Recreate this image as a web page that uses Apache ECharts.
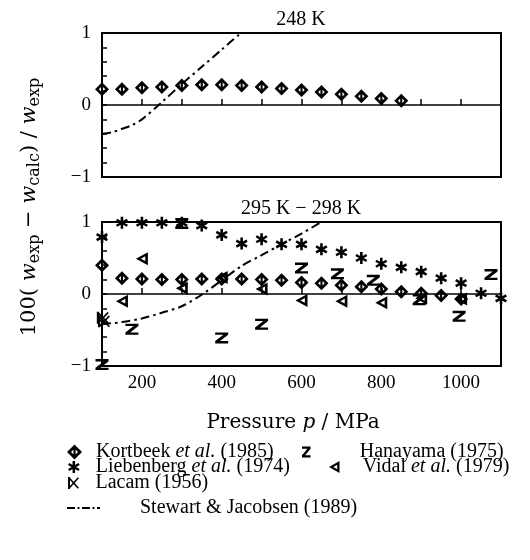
<!DOCTYPE html>
<html>
<head>
<meta charset="utf-8">
<script src="https://cdn.jsdelivr.net/npm/echarts@6/dist/echarts.min.js"></script>
<style>
html,body{margin:0;padding:0;background:#fff;}
#chart{width:530px;height:560px;}
</style>
</head>
<body>
<div id="chart"></div>
<script>
// ---------- data ----------
const xTicks = [200, 400, 600, 800, 1000];
const yTickLabels = ['−1', '0', '1'];

// 248 K panel
const p248 = [100,150,200,250,300,350,400,450,500,550,600,650,700,750,800,850];
const kortbeek248 = [0.22,0.22,0.24,0.25,0.27,0.28,0.28,0.27,0.25,0.23,0.21,0.18,0.15,0.12,0.09,0.06];
const pStewart248 = [100,125,150,175,200,250,300,350,400,450];
const stewart248 = [-0.40,-0.38,-0.33,-0.28,-0.20,0.04,0.29,0.53,0.77,1.01];

// 295 K - 298 K panel
const p298 = [100,150,200,250,300,350,400,450,500,550,600,650,700,750,800,850,900,950,1000];
const kortbeek298 = [0.40,0.22,0.21,0.20,0.20,0.21,0.21,0.21,0.20,0.19,0.16,0.15,0.12,0.10,0.07,0.03,0.01,-0.02,-0.07];
const pLiebenberg = [100,150,200,250,300,350,400,450,500,550,600,650,700,750,800,850,900,950,1000,1050,1100];
const liebenberg = [0.79,0.99,0.99,0.99,0.99,0.95,0.82,0.70,0.76,0.69,0.69,0.62,0.58,0.50,0.42,0.37,0.31,0.22,0.15,0.01,-0.06];
const pHanayama = [100,175,300,400,500,600,690,780,895,995,1075];
const hanayama = [-0.98,-0.49,0.98,-0.61,-0.42,0.36,0.28,0.19,-0.08,-0.31,0.27];
const pVidal = [150,200,300,400,500,600,700,800,900,1000];
const vidal = [-0.10,0.49,0.08,0.23,0.07,-0.09,-0.10,-0.12,-0.06,-0.07];
const pLacam = [102,105];
const lacam = [-0.33,-0.38];
const pStewart298 = [100,150,200,250,300,350,400,450,500,550,600,650];
const stewart298 = [-0.42,-0.39,-0.34,-0.26,-0.17,-0.01,0.19,0.39,0.54,0.69,0.84,1.0];

const names = {
  kortbeek: 'Kortbeek et al. (1985)',
  liebenberg: 'Liebenberg et al. (1974)',
  lacam: 'Lacam (1956)',
  hanayama: 'Hanayama (1975)',
  vidal: 'Vidal et al. (1979)',
  stewart: 'Stewart & Jacobsen (1989)'
};

// ---------- styles ----------
const FONT = '"Liberation Serif", "Times New Roman", serif';
const FONT2 = '"DejaVu Serif", serif';
const symDiamond = 'path://M0,-10L10,0L0,10L-10,0Z M0,-4.6L-4.6,0L0,4.6L4.6,0Z M-1.5,-5L1.5,-5L1.5,5L-1.5,5Z';
const symStar = 'path://M-2.1,-10L2.1,-10L2.1,10L-2.1,10Z M7.61,-6.82L9.71,-3.18L-7.61,6.82L-9.71,3.18Z M9.71,3.18L7.61,6.82L-9.71,-3.18L-7.61,-6.82Z';
const symZ = 'path://M-7,-9L7,-9L7,-5.2L-1.8,5.2L7,5.2L7,9L-7,9L-7,5.2L1.8,-5.2L-7,-5.2Z';
const symTri = 'path://M-8,0L6,-8L6,8Z M-2.2,0L2.9,2.9L2.9,-2.9Z';
const symLacam = 'path://M-6.1,-8.79L7.9,7.21L6.1,8.79L-7.9,-7.21Z M6.1,-8.79L7.9,-7.21L-6.1,8.79L-7.9,7.21Z M-8.5,-9L-5.5,-9L-5.5,9L-8.5,9Z';
const symDashDot = 'path://M0,0L8,0L8,2L0,2Z M10.5,0L12.5,0L12.5,2L10.5,2Z M15,0L23,0L23,2L15,2Z M25.5,0L27.5,0L27.5,2L25.5,2Z M30,0L33,0L33,2L30,2Z';

const pairs = (xs, ys) => xs.map((x, i) => [x, ys[i]]);
const near = (a, b) => Math.abs(a - b) < 1e-6;

function xAxisCfg(idx, showLabels) {
  return {
    type: 'value', gridIndex: idx, min: 100, max: 1100, interval: 100,
    splitLine: { show: false },
    axisLine: { show: false },
    axisTick: { show: true, inside: true, length: 6, lineStyle: { color: '#000', width: 1.5 } },
    axisLabel: {
      show: showLabels, margin: 8, color: '#000', fontFamily: FONT, fontSize: 19,
      formatter: v => (xTicks.some(t => near(t, v)) ? String(v) : '')
    }
  };
}
function yAxisCfg(idx) {
  return {
    type: 'value', gridIndex: idx, min: -1, max: 1, interval: 0.2,
    splitLine: { show: false },
    axisLine: { show: false },
    axisTick: { show: true, inside: true, length: 5, lineStyle: { color: '#000', width: 1.5 } },
    axisLabel: {
      margin: 11, color: '#000', fontFamily: FONT, fontSize: 19,
      formatter: v => near(v, -1) ? yTickLabels[0] : near(v, 0) ? yTickLabels[1] : near(v, 1) ? yTickLabels[2] : ''
    }
  };
}
const zeroLine = {
  silent: true, symbol: 'none', label: { show: false },
  lineStyle: { color: '#000', type: 'solid', width: 1.5 },
  data: [{ yAxis: 0 }]
};
function scatter(name, xi, xs, ys, symbol, size, extra) {
  return Object.assign({
    name: name, type: 'scatter', xAxisIndex: xi, yAxisIndex: xi,
    data: pairs(xs, ys), symbol: symbol, symbolSize: size,
    itemStyle: { color: '#000', opacity: 1 }, z: 5
  }, extra || {});
}
function dashLine(name, xi, xs, ys) {
  return {
    name: name, type: 'line', xAxisIndex: xi, yAxisIndex: xi,
    data: pairs(xs, ys), symbol: 'none', smooth: 0.3, clip: true,
    lineStyle: { color: '#000', width: 2, type: [9, 4, 2.5, 4] },
    itemStyle: { color: '#000' }, z: 3
  };
}

const richBase = {
  n: { fontFamily: FONT, fontSize: 20, color: '#000', lineHeight: 20 },
  i: { fontFamily: FONT, fontSize: 20, color: '#000', fontStyle: 'italic', lineHeight: 20 }
};
function legendFmt(name, spacer) {
  let body;
  if (name.indexOf('et al.') >= 0) {
    const parts = name.split('et al.');
    body = '{n|' + parts[0] + '}{i|et al.}{n|' + parts[1] + '}';
  } else {
    body = '{n|' + name + '}';
  }
  return '{g' + spacer + '| }' + body;
}
function legendCfg(name, left, top, w, h, spacer, icon) {
  const rich = Object.assign({}, richBase);
  rich['g' + spacer] = { width: spacer, fontSize: 20, lineHeight: 20 };
  const cfg = {
    data: [name], left: left, top: top, padding: 0, itemWidth: w, itemHeight: h,
    selectedMode: false, orient: 'horizontal',
    itemStyle: { color: '#000', borderWidth: 0 },
    formatter: n => legendFmt(n, spacer),
    textStyle: { fontFamily: FONT, fontSize: 20, color: '#000', rich: rich }
  };
  if (icon) cfg.icon = icon;
  return cfg;
}

const chart = echarts.init(document.getElementById('chart'), null, { renderer: 'canvas' });
chart.setOption({
  animation: false,
  backgroundColor: '#fff',
  grid: [
    { left: 102, top: 33, width: 399, height: 144, show: true, borderColor: '#000', borderWidth: 2, backgroundColor: 'transparent' },
    { left: 102, top: 222, width: 399, height: 144, show: true, borderColor: '#000', borderWidth: 2, backgroundColor: 'transparent' }
  ],
  xAxis: [xAxisCfg(0, false), xAxisCfg(1, true)],
  yAxis: [yAxisCfg(0), yAxisCfg(1)],
  legend: [
    legendCfg(names.kortbeek, 67, 442, 15, 15, 9, symDiamond),
    legendCfg(names.liebenberg, 68, 457, 12, 12, 11, symStar),
    legendCfg(names.lacam, 68, 473, 12, 12, 11, symLacam),
    legendCfg(names.hanayama, 302, 442, 13, 11, 42, symZ),
    legendCfg(names.vidal, 329, 457, 11, 12, 18, symTri),
    legendCfg(names.stewart, 67, 498, 33, 2, 35, symDashDot)
  ],
  graphic: [
    { type: 'text', x: 301, y: 20, style: { text: '248 K', font: '20px ' + FONT, fill: '#000', align: 'center', verticalAlign: 'middle' } },
    { type: 'text', x: 301, y: 209, style: { text: '295 K − 298 K', font: '20px ' + FONT, fill: '#000', align: 'center', verticalAlign: 'middle' } },
    { type: 'text', x: 293, y: 423, style: { text: '{n|Pressure }{i|p}{n| / MPa}', fill: '#000', align: 'center', verticalAlign: 'middle',
        rich: {
          n: { fontFamily: FONT2, fontSize: 20, fill: '#000', color: '#000' },
          i: { fontFamily: FONT2, fontSize: 20, fontStyle: 'italic', fill: '#000', color: '#000' }
        } } },
    { type: 'text', x: 30, y: 207, rotation: Math.PI / 2,
      style: {
        text: '{n|100( }{i|w}{s|exp}{n| − }{i|w}{s|calc}{n|) / }{i|w}{s|exp}',
        fill: '#000', align: 'center', verticalAlign: 'middle',
        rich: {
          n: { fontFamily: FONT2, fontSize: 21, fill: '#000', color: '#000', lineHeight: 26 },
          i: { fontFamily: FONT2, fontSize: 21, fontStyle: 'italic', fill: '#000', color: '#000', lineHeight: 26 },
          s: { fontFamily: FONT2, fontSize: 16, fill: '#000', color: '#000', verticalAlign: 'bottom', lineHeight: 23 }
        }
      } }
  ],
  series: [
    scatter(names.kortbeek, 0, p248, kortbeek248, symDiamond, [14, 14], { markLine: zeroLine }),
    dashLine(names.stewart, 0, pStewart248, stewart248),
    scatter(names.kortbeek, 1, p298, kortbeek298, symDiamond, [14, 14], { markLine: zeroLine }),
    scatter(names.liebenberg, 1, pLiebenberg, liebenberg, symStar, [12, 12]),
    scatter(names.hanayama, 1, pHanayama, hanayama, symZ, [13, 11]),
    scatter(names.vidal, 1, pVidal, vidal, symTri, [12, 13]),
    scatter(names.lacam, 1, pLacam, lacam, symLacam, [12, 12]),
    dashLine(names.stewart, 1, pStewart298, stewart298)
  ]
});
</script>
</body>
</html>
